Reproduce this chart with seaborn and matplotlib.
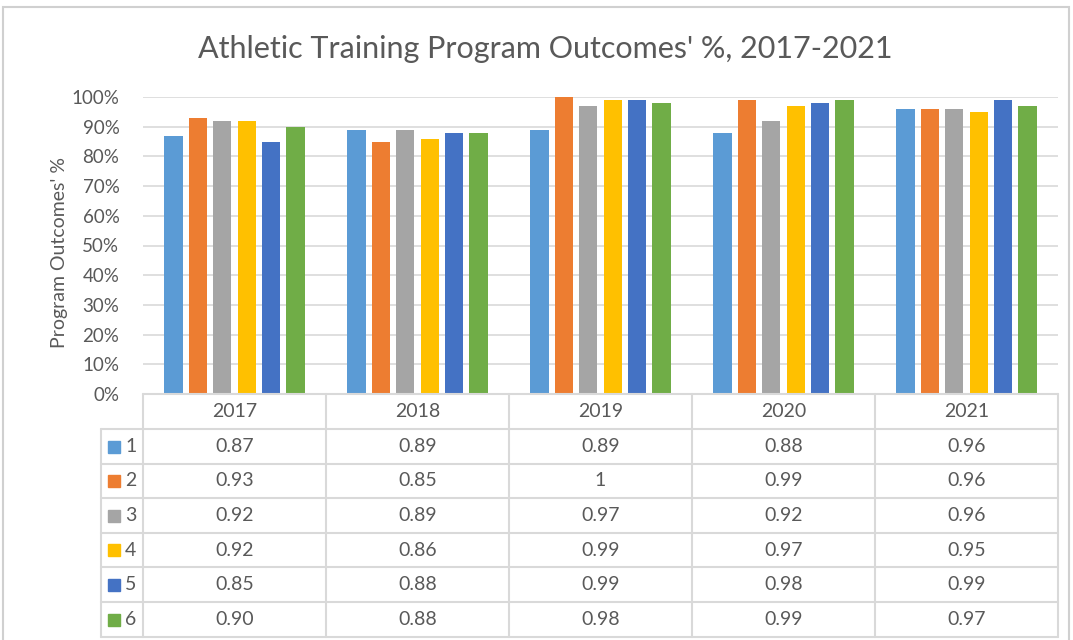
import numpy as np
import pandas as pd
import seaborn as sns
import matplotlib.pyplot as plt
from matplotlib.patches import Rectangle
from matplotlib.lines import Line2D
from matplotlib.ticker import PercentFormatter

years = ['2017', '2018', '2019', '2020', '2021']
outcomes = ['1', '2', '3', '4', '5', '6']
outcome_1 = [0.87, 0.89, 0.89, 0.88, 0.96]
outcome_2 = [0.93, 0.85, 1.00, 0.99, 0.96]
outcome_3 = [0.92, 0.89, 0.97, 0.92, 0.96]
outcome_4 = [0.92, 0.86, 0.99, 0.97, 0.95]
outcome_5 = [0.85, 0.88, 0.99, 0.98, 0.99]
outcome_6 = [0.90, 0.88, 0.98, 0.99, 0.97]
colors = ['#5B9BD5', '#ED7D31', '#A5A5A5', '#FFC000', '#4472C4', '#70AD47']

series = [outcome_1, outcome_2, outcome_3, outcome_4, outcome_5, outcome_6]
df = pd.DataFrame({
    'Year': np.tile(years, len(outcomes)),
    'Outcome': np.repeat(outcomes, len(years)),
    'Value': np.concatenate(series),
})

sns.set_theme(style='white')
plt.rcParams['font.family'] = ['Lato', 'DejaVu Sans']
txt = '#595959'
grid = '#D9D9D9'

W, H = 1073, 640
fig = plt.figure(figsize=(W / 100, H / 100), dpi=100)

# pixel helpers
def fx(x):
    return x / W

def fy(y):
    return 1 - y / H

x0, x1, y_top, y_bot = 143, 1058, 97, 394
ax = fig.add_axes([fx(x0), fy(y_bot), fx(x1 - x0), (y_bot - y_top) / H])

sns.barplot(data=df, x='Year', y='Value', hue='Outcome', palette=colors,
            width=0.8, ax=ax, legend=False, saturation=1)

# thin bars with a gap like the original
for p in ax.patches:
    w = p.get_width()
    p.set_x(p.get_x() + w * 0.125)
    p.set_width(w * 0.75)
    p.set_linewidth(0)

ax.set_ylim(0, 1)
ax.set_xlim(-0.5, len(years) - 0.5)
ax.set_yticks(np.arange(0, 1.01, 0.1))
ax.yaxis.set_major_formatter(PercentFormatter(1.0, decimals=0))
ax.yaxis.grid(True, color=grid, linewidth=1.2)
ax.set_axisbelow(True)
ax.tick_params(axis='y', colors=txt, labelsize=13.5, length=0, pad=17)
ax.set_xticks([])
ax.set_xlabel('')
ax.set_ylabel("Program Outcomes' %", color=txt, fontsize=14)
ax.yaxis.set_label_coords(-0.082, 0.475)
for s in ax.spines.values():
    s.set_visible(False)

fig.text(fx(545), fy(49), "Athletic Training Program Outcomes' %, 2017-2021",
         ha='center', va='center', fontsize=22, color=txt)

# data table under the plot
col_w = (x1 - x0) / len(years)
row_y = [394, 429, 464, 498, 533, 567, 602, 637]
leg_x = 101
lc = dict(color=grid, linewidth=1.5, transform=fig.transFigure)

fig.add_artist(Line2D([fx(x0), fx(x1)], [fy(row_y[0])] * 2, **lc))
for y in row_y[1:]:
    fig.add_artist(Line2D([fx(leg_x), fx(x1)], [fy(y)] * 2, **lc))
for i in range(len(years) + 1):
    xv = x0 + i * col_w
    fig.add_artist(Line2D([fx(xv)] * 2, [fy(row_y[0]), fy(row_y[-1])], **lc))
fig.add_artist(Line2D([fx(leg_x)] * 2, [fy(row_y[1]), fy(row_y[-1])], **lc))

for i, yr in enumerate(years):
    cx = x0 + (i + 0.5) * col_w
    fig.text(fx(cx), fy((row_y[0] + row_y[1]) / 2), yr, ha='center', va='center',
             fontsize=14, color=txt)

for r, (name, vals) in enumerate(zip(outcomes, series)):
    cy = (row_y[r + 1] + row_y[r + 2]) / 2
    fig.add_artist(Rectangle((fx(108), fy(cy + 6)), fx(12), 12 / H,
                             color=colors[r], transform=fig.transFigure))
    fig.text(fx(125), fy(cy), name, ha='left', va='center', fontsize=14, color=txt)
    for i, v in enumerate(vals):
        cx = x0 + (i + 0.5) * col_w
        label = '1' if v == 1 else f'{v:.2f}'
        fig.text(fx(cx), fy(cy), label, ha='center', va='center',
                 fontsize=14, color=txt)

# chart frame
fig.add_artist(Rectangle((fx(3), fy(660)), fx(1066), 653 / H, fill=False,
                         edgecolor='#D0D0D0', linewidth=1.5, transform=fig.transFigure))

fig.savefig('out.png', dpi=100)
